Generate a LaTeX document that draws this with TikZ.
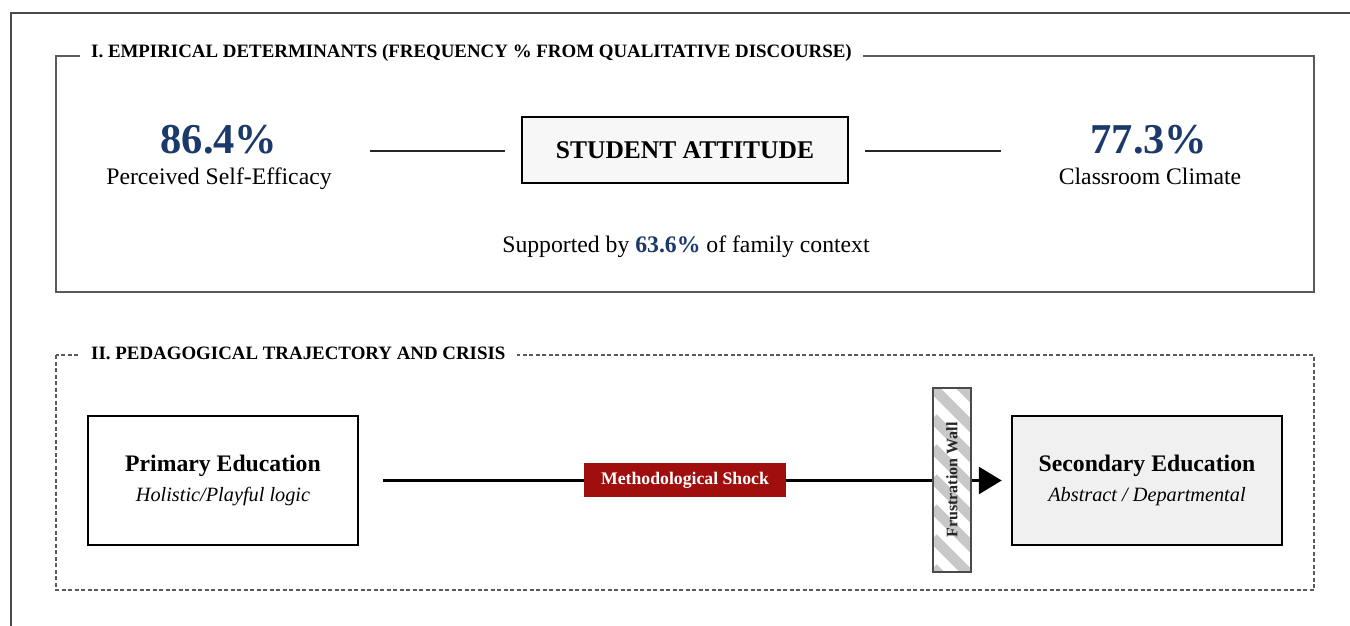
\documentclass[tikz,border=0pt]{standalone}
\usepackage{fontspec}
\setmainfont{Liberation Serif}
\usetikzlibrary{arrows.meta}
\definecolor{navy}{HTML}{1B3A6B}
\definecolor{shockred}{HTML}{A00E0E}
\definecolor{framegray}{HTML}{4A4A4A}
\definecolor{secgray}{HTML}{5A5A5A}
\definecolor{stripegray}{HTML}{C8C8C8}
\newcommand{\fsz}[1]{\fontsize{#1}{#1}\selectfont}
\begin{document}
\begin{tikzpicture}[x=1pt,y=-1pt,
  sectitle/.style={fill=white,inner xsep=11pt,inner ysep=2pt,font=\fsz{18.9}\bfseries,anchor=west},
  pct/.style={font=\fsz{42.5}\bfseries,text=navy,inner sep=0pt,anchor=base},
  lbl/.style={font=\fsz{23.7},inner sep=0pt,anchor=base},
  attbox/.style={draw=black,line width=2.5pt,fill=black!3,minimum width=326pt,minimum height=66pt,font=\fsz{25.5}\bfseries},
  edubox/.style={draw=black,line width=2.5pt,minimum width=270pt,minimum height=129pt,align=center},
  conn/.style={line width=2pt,black!85},
  flow/.style={line width=3pt,black,-{Triangle[length=23pt,width=27pt]}},
  shock/.style={fill=shockred,text=white,font=\fsz{17.7}\bfseries,minimum width=202pt,minimum height=34pt,inner sep=0pt},
  wall/.style={draw=framegray,line width=1.5pt,minimum width=38pt,minimum height=184pt,fill=white,
    path picture={\foreach \i in {-60,-30,...,210}{\draw[stripegray,line width=10.5pt]
      ([yshift=-\i pt]path picture bounding box.north west) -- ++(60,60);}}},
  dashbox/.style={secgray,line width=1.5pt,dash pattern=on 4pt off 2.5pt}
]
\useasboundingbox (0,0) rectangle (1350,626);
\fill[white] (0,0) rectangle (1350,626);
\draw[framegray,line width=2pt] (11,626) -- (11,13) -- (1350,13);

% Section I
\draw[secgray,line width=1.5pt] (56,56) rectangle (1314,292);
\node[sectitle] (t1) at (80,53) {I. EMPIRICAL DETERMINANTS (FREQUENCY \% FROM QUALITATIVE DISCOURSE)};

\node[pct] (p1) at (219,153) {86.4\%};
\node[lbl] (l1) at (219,184) {Perceived Self-Efficacy};
\node[pct] (p2) at (1149,153) {77.3\%};
\node[lbl] (l2) at (1150,184) {Classroom Climate};

\node[attbox] (sa) at (685,150) {STUDENT ATTITUDE};
\coordinate (cl) at (370,151);
\coordinate (cr) at (1001,151);
\draw[conn] (cl) -- ([xshift=-16pt,yshift=-1pt]sa.west);
\draw[conn] ([xshift=16pt,yshift=-1pt]sa.east) -- (cr);

\node[lbl] (sup) at (686,252) {Supported by \textcolor{navy}{\bfseries 63.6\%} of family context};

% Section II
\draw[dashbox] (56,355) rectangle (1314,590);
\node[sectitle] (t2) at (80,353) {II. PEDAGOGICAL TRAJECTORY AND CRISIS};

\node[edubox] (pe) at (223,480.5) {{\fsz{23.7}\bfseries Primary Education}\\[10pt]{\fsz{20.3}\itshape Holistic/Playful logic}\rule[-4pt]{0pt}{0pt}};
\node[edubox,fill=black!6] (se) at (1147,480.5) {{\fsz{23.7}\bfseries Secondary Education}\\[10pt]{\fsz{20.3}\itshape Abstract / Departmental}};

\draw[flow,shorten <=24pt,shorten >=9pt] (pe.east) -- (se.west);
\node[shock] (ms) at (685,480) {Methodological Shock};
\node[wall] (fw) at (952,480) {};
\node[rotate=90,font=\fsz{16}\bfseries,text=black!85] (fwt) at (fw.center) {Frustration Wall};
\end{tikzpicture}
\end{document}
